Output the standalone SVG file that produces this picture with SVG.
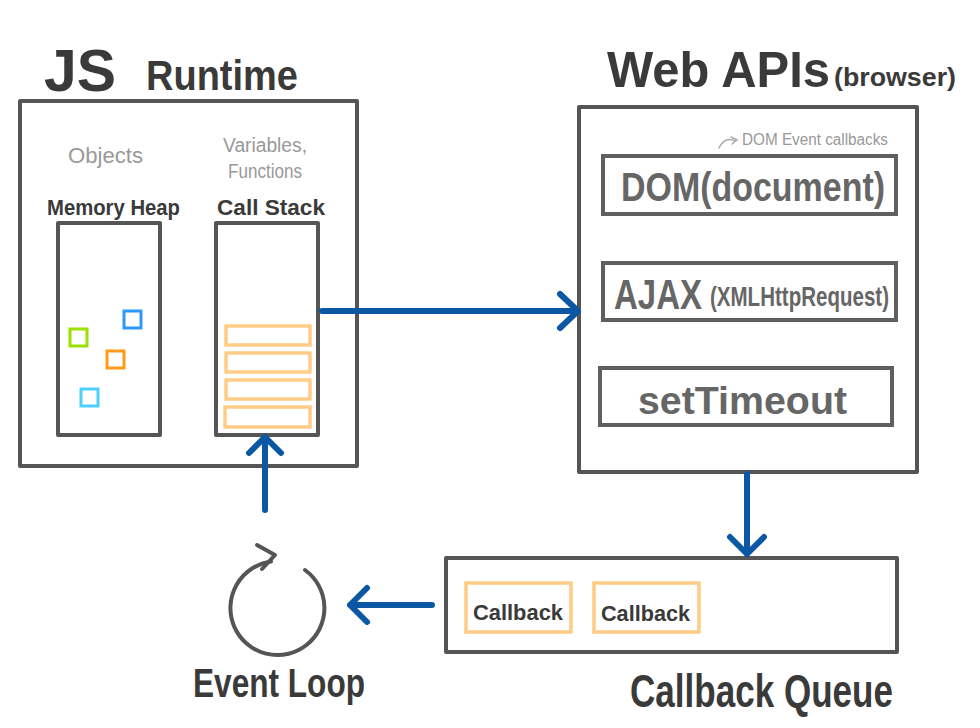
<svg xmlns="http://www.w3.org/2000/svg" width="980" height="728" viewBox="0 0 980 728">
<style>
.box{fill:none;stroke:#555;stroke-width:4;stroke-linejoin:round}
.ibox{fill:none;stroke:#5f5f5f;stroke-width:4}
.slot{fill:none;stroke:#ffcb85;stroke-width:3.5}
.t{font-family:"Liberation Sans","Open Sans",sans-serif;fill:#3a3a3a;font-weight:bold}
.g{font-family:"Liberation Sans","Open Sans",sans-serif;fill:#999}
.w{font-family:"Liberation Sans","Open Sans",sans-serif;fill:#666;font-weight:bold}
.conn{fill:none;stroke:#0b57a4;stroke-width:6;stroke-linecap:round;stroke-linejoin:round}
</style>
<rect width="980" height="728" fill="#fff"/>

<g id="js-runtime">
<text class="t" x="44" y="91" font-size="60" textLength="72" lengthAdjust="spacingAndGlyphs">JS</text>
<text class="t" x="146" y="90" font-size="42" textLength="152" lengthAdjust="spacingAndGlyphs">Runtime</text>
<rect class="box" x="20" y="101" width="337" height="365"/>
</g>

<g id="memory-heap">
<text class="g" x="68" y="163" font-size="22" textLength="75" lengthAdjust="spacingAndGlyphs">Objects</text>
<text class="t" x="47" y="215" font-size="22" textLength="133" lengthAdjust="spacingAndGlyphs">Memory Heap</text>
<rect class="box" x="58" y="223" width="102" height="212"/>
<rect x="70" y="329" width="17" height="17" fill="none" stroke="#9be000" stroke-width="3"/>
<rect x="124" y="311" width="17" height="17" fill="none" stroke="#2e97fb" stroke-width="3"/>
<rect x="107" y="351" width="17" height="17" fill="none" stroke="#ff9a1a" stroke-width="3"/>
<rect x="81" y="389" width="17" height="17" fill="none" stroke="#4dd0ff" stroke-width="3"/>
</g>

<g id="call-stack">
<text class="g" x="223" y="152" font-size="20" textLength="84" lengthAdjust="spacingAndGlyphs">Variables,</text>
<text class="g" x="228" y="178" font-size="20" textLength="74" lengthAdjust="spacingAndGlyphs">Functions</text>
<text class="t" x="217" y="215" font-size="22" textLength="108" lengthAdjust="spacingAndGlyphs">Call Stack</text>
<rect class="box" x="216" y="223" width="102" height="212"/>
<rect class="slot" x="226" y="326" width="84" height="19"/>
<rect class="slot" x="226" y="353" width="84" height="19"/>
<rect class="slot" x="226" y="380" width="84" height="19"/>
<rect class="slot" x="225" y="407" width="85" height="20"/>
</g>

<g id="web-apis">
<text class="t" x="607" y="87" font-size="50" textLength="223" lengthAdjust="spacingAndGlyphs">Web APIs</text>
<text class="t" x="834" y="86" font-size="26" textLength="122" lengthAdjust="spacingAndGlyphs">(browser)</text>
<rect class="box" x="579" y="107" width="338" height="365"/>
<path d="M719 148 q6 -12 16 -7 M731 137 l6 3 l-5 4" fill="none" stroke="#aaa" stroke-width="1.5" stroke-linecap="round"/>
<text class="g" x="742" y="145" font-size="16" textLength="146" lengthAdjust="spacingAndGlyphs">DOM Event callbacks</text>
</g>

<g id="dom">
<rect class="ibox" x="603" y="156" width="293" height="58"/>
<text class="w" x="621" y="201" font-size="40" textLength="264" lengthAdjust="spacingAndGlyphs">DOM(document)</text>
</g>

<g id="ajax">
<rect class="ibox" x="603" y="263" width="293" height="57"/>
<text class="w" x="614" y="309" font-size="42" textLength="88" lengthAdjust="spacingAndGlyphs">AJAX</text>
<text class="w" x="710" y="306" font-size="27" textLength="179" lengthAdjust="spacingAndGlyphs">(XMLHttpRequest)</text>
</g>

<g id="settimeout">
<rect class="ibox" x="600" y="368" width="292" height="57"/>
<text class="w" x="638" y="414" font-size="38" textLength="209" lengthAdjust="spacingAndGlyphs">setTimeout</text>
</g>

<g id="callback-queue">
<rect class="box" x="446" y="558" width="451" height="94"/>
<rect class="slot" x="466" y="583" width="105" height="49"/>
<text class="t" x="473" y="620" font-size="22" textLength="90" lengthAdjust="spacingAndGlyphs">Callback</text>
<rect class="slot" x="594" y="583" width="105" height="49"/>
<text class="t" x="601" y="621" font-size="22" textLength="89" lengthAdjust="spacingAndGlyphs">Callback</text>
<text class="t" x="630" y="707" font-size="46" textLength="263" lengthAdjust="spacingAndGlyphs">Callback Queue</text>
</g>

<g id="event-loop">
<path d="M305 570 A47 47 0 1 1 271 561.5" fill="none" stroke="#555" stroke-width="4" stroke-linecap="round"/>
<polyline points="257,545 275,555 262,569" fill="none" stroke="#555" stroke-width="4" stroke-linecap="round" stroke-linejoin="round"/>
<text class="t" x="193" y="697" font-size="40" textLength="172" lengthAdjust="spacingAndGlyphs">Event Loop</text>
</g>

<g id="connectors">
<path class="conn" d="M322 311 H578 M560 294 L578 311 L560 328"/>
<path class="conn" d="M747 474 V554 M730 537 L747 554 L764 537"/>
<path class="conn" d="M432 605 H350 M367 588 L350 605 L367 622"/>
<path class="conn" d="M265 510 V437 M249 453 L265 437 L281 453"/>
</g>
</svg>
